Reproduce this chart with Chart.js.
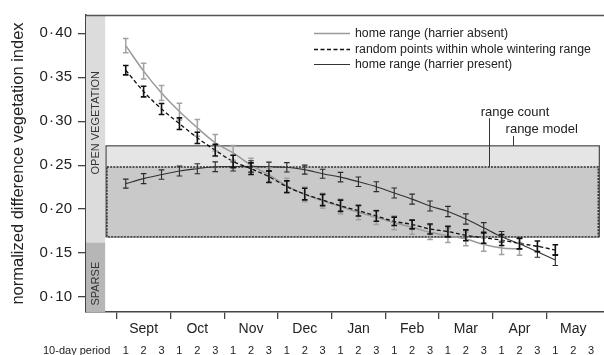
<!DOCTYPE html>
<html>
<head>
<meta charset="utf-8">
<script src="https://cdn.jsdelivr.net/npm/chart.js@4.4.1/dist/chart.umd.min.js"></script>
<style>
  html, body { margin: 0; padding: 0; background: #fff; }
  #c { display: block; }
</style>
</head>
<body>
<canvas id="c" width="604" height="355"></canvas>
<script>
// Months of the wintering season and the three 10-day periods in each
const months = ['Sept', 'Oct', 'Nov', 'Dec', 'Jan', 'Feb', 'Mar', 'Apr', 'May'];
const periodLabels = ['1', '2', '3'];
const yTicks = [0.10, 0.15, 0.20, 0.25, 0.30, 0.35, 0.40];

// NDVI means (one per 10-day period from Sept 1) and standard errors
const absentMean = [0.386, 0.357, 0.332, 0.311, 0.2925, 0.2755, 0.264, 0.250, 0.239, 0.2265,
  0.2168, 0.2095, 0.203, 0.1965, 0.1906, 0.1846, 0.1793, 0.1736, 0.1698, 0.1661,
  0.1597, 0.1559, 0.1548];
const absentErr = [0.008, 0.009, 0.0085, 0.0095, 0.0095, 0.0095, 0.0085, 0.008, 0.008, 0.0085,
  0.0085, 0.0085, 0.0085, 0.0085, 0.008, 0.008, 0.008, 0.008, 0.0078, 0.0078,
  0.0075, 0.0075, 0.0072];

const randomMean = [0.358, 0.3337, 0.3139, 0.2972, 0.2811, 0.267, 0.2542, 0.246, 0.2369, 0.2255,
  0.2171, 0.2104, 0.2038, 0.1982, 0.1922, 0.1861, 0.1825, 0.1774, 0.1744, 0.1702,
  0.1674, 0.1648, 0.161, 0.1577, 0.1535];
const randomErr = [0.0053, 0.006, 0.0062, 0.0066, 0.0064, 0.0066, 0.007, 0.0066, 0.0066, 0.0066,
  0.0066, 0.0064, 0.0064, 0.006, 0.006, 0.0048, 0.005, 0.0057, 0.006, 0.0062,
  0.0062, 0.0062, 0.006, 0.006, 0.006];

const presentMean = [0.229, 0.2347, 0.2393, 0.2434, 0.246, 0.2482, 0.2485, 0.2486, 0.2482, 0.2476,
  0.2449, 0.2403, 0.2364, 0.2312, 0.2255, 0.2183, 0.2114, 0.2035, 0.1973, 0.1888,
  0.1787, 0.1685, 0.1605, 0.1514, 0.1421];
const presentErr = [0.0051, 0.0057, 0.0053, 0.0057, 0.0057, 0.0055, 0.0051, 0.0065, 0.0053, 0.0053,
  0.0051, 0.0051, 0.0054, 0.0054, 0.0056, 0.0057, 0.0057, 0.0057, 0.0058, 0.0058,
  0.006, 0.006, 0.006, 0.0062, 0.0062];

// NDVI ranges of the vegetation classes
const rangeModel = [0.1685, 0.272];
const rangeCount = [0.1685, 0.248];
const sparseUpper = 0.162;

const FONT = "'Liberation Sans', Arial, Helvetica, sans-serif";
const INK = '#222';

const toPoints = arr => arr.map((v, i) => ({ x: i, y: v }));

// Shaded vegetation bands, range boxes and frame, drawn under the series
const backdrop = {
  id: 'backdrop',
  beforeDatasetsDraw(chart) {
    const { ctx, chartArea: a, scales: { x, y } } = chart;
    ctx.save();
    const bandR = x.getPixelForValue(-1.15);
    const ySplit = y.getPixelForValue(sparseUpper);
    ctx.fillStyle = '#dcdcdc';
    ctx.fillRect(a.left, a.top, bandR - a.left, ySplit - a.top);
    ctx.fillStyle = '#b6b6b6';
    ctx.fillRect(a.left, ySplit, bandR - a.left, a.bottom - ySplit);

    // range model box
    const mL = x.getPixelForValue(-1.1), mR = x.getPixelForValue(26.46);
    const mT = y.getPixelForValue(rangeModel[1]), mB = y.getPixelForValue(rangeModel[0]);
    ctx.fillStyle = '#e5e5e5';
    ctx.fillRect(mL, mT, mR - mL, mB - mT);
    ctx.strokeStyle = '#4a4a4a';
    ctx.lineWidth = 1.2;
    ctx.strokeRect(mL, mT, mR - mL, mB - mT);

    // range count box
    const cL = x.getPixelForValue(-1.05), cR = x.getPixelForValue(26.4);
    const cT = y.getPixelForValue(rangeCount[1]), cB = y.getPixelForValue(rangeCount[0]);
    ctx.fillStyle = '#c9c9c9';
    ctx.fillRect(cL, cT, cR - cL, cB - cT);
    ctx.strokeStyle = '#2a2a2a';
    ctx.lineWidth = 1.4;
    ctx.setLineDash([2, 1.2]);
    ctx.strokeRect(cL, cT, cR - cL, cB - cT);
    ctx.setLineDash([]);

    // leader lines and box labels
    ctx.strokeStyle = '#333';
    ctx.lineWidth = 1;
    const lc = Math.round(x.getPixelForValue(20.31)) + 0.5;
    ctx.beginPath();
    ctx.moveTo(lc, y.getPixelForValue(0.3034));
    ctx.lineTo(lc, cT);
    ctx.stroke();
    const lm = Math.round(x.getPixelForValue(21.62)) + 0.5;
    ctx.beginPath();
    ctx.moveTo(lm, y.getPixelForValue(0.2831));
    ctx.lineTo(lm, mT);
    ctx.stroke();
    ctx.fillStyle = INK;
    ctx.font = '13px ' + FONT;
    ctx.textAlign = 'center';
    ctx.textBaseline = 'alphabetic';
    ctx.fillText('range count', x.getPixelForValue(21.75), y.getPixelForValue(0.3057));
    ctx.fillText('range model', x.getPixelForValue(23.24), y.getPixelForValue(0.2868));

    // band labels
    ctx.font = '11px ' + FONT;
    ctx.fillStyle = '#333';
    ctx.textBaseline = 'middle';
    const bx = (a.left + bandR) / 2 + 0.5;
    [['OPEN VEGETATION', 0.2983], ['SPARSE', 0.1152]].forEach(([t, v]) => {
      ctx.save();
      ctx.translate(bx, y.getPixelForValue(v));
      ctx.rotate(-Math.PI / 2);
      ctx.fillText(t, 0, 0);
      ctx.restore();
    });

    // top frame line
    ctx.strokeStyle = '#555';
    ctx.lineWidth = 1.5;
    ctx.beginPath();
    ctx.moveTo(a.left, a.top + 0.5);
    ctx.lineTo(a.right, a.top + 0.5);
    ctx.stroke();
    ctx.restore();
  }
};

// Vertical error bars with caps, drawn over the lines
const errorBars = {
  id: 'errorBars',
  afterDatasetsDraw(chart) {
    const { ctx, scales: { x, y } } = chart;
    const drawOrder = [0, 2, 1];
    ctx.save();
    drawOrder.forEach(di => {
      const ds = chart.data.datasets[di];
      ctx.strokeStyle = ds.errColor;
      ctx.lineWidth = ds.errWidth;
      ds.data.forEach((p, i) => {
        const e = ds.errors[i];
        const px = x.getPixelForValue(p.x);
        const y1 = y.getPixelForValue(p.y + e);
        const y2 = y.getPixelForValue(p.y - e);
        ctx.beginPath();
        ctx.moveTo(px, y1); ctx.lineTo(px, y2);
        ctx.moveTo(px - 2.8, y1); ctx.lineTo(px + 2.8, y1);
        ctx.moveTo(px - 2.8, y2); ctx.lineTo(px + 2.8, y2);
        ctx.stroke();
      });
    });
    ctx.restore();
  }
};

// Month names, 10-day period numbers and the legend
const annotations = {
  id: 'annotations',
  afterDraw(chart) {
    const { ctx, chartArea: a, scales: { x } } = chart;
    ctx.save();
    ctx.fillStyle = INK;
    ctx.textAlign = 'center';
    ctx.textBaseline = 'alphabetic';
    ctx.font = '14px ' + FONT;
    months.forEach((m, k) => ctx.fillText(m, x.getPixelForValue(3 * k + 1), 333));
    ctx.font = '11px ' + FONT;
    for (let i = 0; i < months.length * 3; i++) {
      ctx.fillText(periodLabels[i % 3], x.getPixelForValue(i), 354);
    }
    ctx.textAlign = 'left';
    ctx.fillText('10-day period', a.left - 43, 354);

    // legend
    const lx0 = 314, lx1 = 350, rows = [33.5, 49.5, 64.5];
    ctx.font = '12.3px ' + FONT;
    ctx.textBaseline = 'middle';
    chart.data.datasets.forEach(ds => {
      const ly = rows[ds.legendRow];
      ctx.strokeStyle = ds.borderColor;
      ctx.lineWidth = ds.legendWidth;
      ctx.setLineDash(ds.borderDash || []);
      ctx.beginPath();
      ctx.moveTo(lx0, ly); ctx.lineTo(lx1, ly);
      ctx.stroke();
      ctx.setLineDash([]);
      ctx.fillStyle = INK;
      ctx.fillText(ds.label, 355, ly + 0.5);
    });
    ctx.restore();
  }
};

new Chart(document.getElementById('c'), {
  type: 'line',
  data: {
    datasets: [
      {
        label: 'home range (harrier absent)',
        data: toPoints(absentMean),
        errors: absentErr,
        borderColor: '#9a9a9a', borderWidth: 1.5,
        errColor: '#a2a2a2', errWidth: 1.5,
        legendRow: 0, legendWidth: 1.3,
        order: 3
      },
      {
        label: 'random points within whole wintering range',
        data: toPoints(randomMean),
        errors: randomErr,
        borderColor: '#111', borderWidth: 1.3, borderDash: [4, 2.5],
        errColor: '#111', errWidth: 1.6,
        legendRow: 1, legendWidth: 1.3,
        order: 1
      },
      {
        label: 'home range (harrier present)',
        data: toPoints(presentMean),
        errors: presentErr,
        borderColor: '#333', borderWidth: 1.1,
        errColor: '#2a2a2a', errWidth: 1.1,
        legendRow: 2, legendWidth: 1.1,
        order: 2
      }
    ]
  },
  options: {
    responsive: false,
    animation: false,
    devicePixelRatio: 1,
    layout: { padding: { top: 13, right: 0, bottom: 0, left: 0 } },
    elements: {
      point: { radius: 0 },
      line: { cubicInterpolationMode: 'monotone', fill: false }
    },
    plugins: { legend: { display: false }, tooltip: { enabled: false } },
    scales: {
      x: {
        type: 'linear',
        min: -2.22, max: 26.72,
        afterBuildTicks: s => { s.ticks = months.map((m, k) => ({ value: 3 * k - 0.5 })); },
        ticks: { callback: () => '', padding: 0 },
        grid: { drawOnChartArea: false, drawTicks: true, tickLength: 7, color: '#444', lineWidth: 1.3 },
        border: { color: '#444', width: 1.5 },
        afterFit: s => { s.height = 43; }
      },
      y: {
        type: 'linear',
        min: 0.083, max: 0.4208,
        afterBuildTicks: s => { s.ticks = yTicks.map(v => ({ value: v })); },
        ticks: {
          callback: v => v.toFixed(2).replace('.', '\u200A\u00B7\u200A'),
          font: { family: FONT, size: 15 },
          color: INK,
          padding: 6
        },
        grid: { drawOnChartArea: false, drawTicks: true, tickLength: 8, color: '#444', lineWidth: 1.3 },
        border: { color: '#444', width: 1.5 },
        title: {
          display: true,
          text: 'normalized difference vegetation index',
          font: { family: FONT, size: 16.5 },
          color: INK,
          padding: { top: 9, bottom: 0 }
        },
        afterFit: s => { s.width = 86; }
      }
    }
  },
  plugins: [backdrop, errorBars, annotations]
});
</script>
</body>
</html>
